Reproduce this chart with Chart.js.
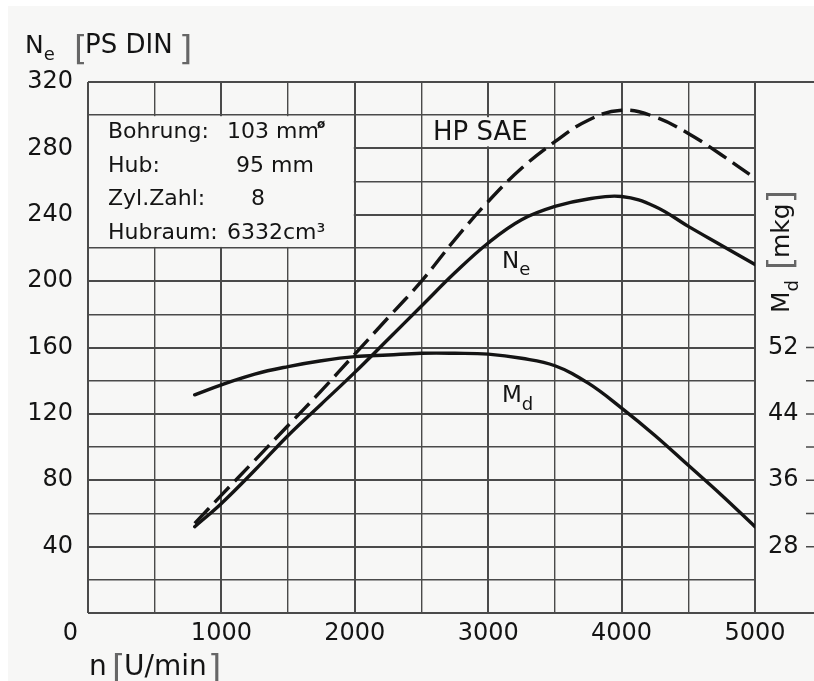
<!DOCTYPE html>
<html>
<head>
<meta charset="utf-8">
<script src="https://cdn.jsdelivr.net/npm/chart.js@4"></script>
<style>
  html, body { margin: 0; padding: 0; background: #fff; }
  canvas { display: block; }
</style>
</head>
<body>
<canvas id="engineChart" width="814" height="681"></canvas>
<script>
// --- Data ---
// engine speed n [U/min]
const rpm = [800, 1000, 1250, 1500, 1750, 2000, 2250, 2500, 2750, 3000, 3250, 3500, 3750, 4000, 4250, 4500, 4750, 5000];
// Ne [PS DIN], solid curve
const neDin = [52, 66, 86, 107, 126, 145, 165, 185, 205, 223, 237, 245, 249.5, 251, 245, 233, 221.5, 210];
// HP SAE, dashed curve (same left scale)
const hpSae = [54, 71, 92, 113, 134, 156, 178, 200, 225, 248, 268, 284, 297, 303, 299, 289, 276, 262];
// Md [mkg], torque curve on the right scale
const mdMkg = [46.3, 47.5, 48.8, 49.7, 50.4, 50.9, 51.1, 51.3, 51.3, 51.2, 50.7, 49.8, 47.7, 44.7, 41.4, 37.8, 34.2, 30.4];

// tick labels
const rpmLabels = [1000, 2000, 3000, 4000, 5000];
const neLabels = [40, 80, 120, 160, 200, 240, 280, 320];
const mdLabels = [28, 36, 44, 52];
const mdTickMarks = [28, 32, 36, 40, 44, 48, 52];

const ink = '#141414';
const gridInk = '#4a4a4a';
const paper = '#f7f7f6';
const font = "'DejaVu Sans', sans-serif";

function points(values) {
    return rpm.map((n, i) => ({ x: n, y: values[i] }));
}

// draws "Main" followed by a lowered small subscript, returns the end x
function textWithSub(ctx, main, sub, x, y, size, subSize, drop) {
    ctx.font = `${size}px ${font}`;
    ctx.fillText(main, x, y);
    const w = ctx.measureText(main).width;
    ctx.font = `${subSize}px ${font}`;
    ctx.fillText(sub, x + w, y + drop);
    return x + w + ctx.measureText(sub).width;
}

function bracket(ctx, ch, x, y) {
    ctx.save();
    ctx.fillStyle = '#666';
    ctx.font = `34px ${font}`;
    ctx.fillText(ch, x, y);
    ctx.restore();
}

// --- Paper, frame, info box and curve labels ---
const chartDecor = {
    id: 'chartDecor',
    beforeDraw(chart) {
        const { ctx, width, height } = chart;
        ctx.save();
        ctx.fillStyle = '#ffffff';
        ctx.fillRect(0, 0, width, height);
        ctx.fillStyle = paper;
        ctx.fillRect(8, 6, width - 8, height - 6);
        ctx.restore();
    },
    beforeDatasetsDraw(chart) {
        const { ctx, chartArea: a, scales: { x, y, y2 } } = chart;
        ctx.save();
        // the data box hides the grid in the upper left
        const bx0 = x.getPixelForValue(0), bx1 = x.getPixelForValue(2000);
        const by0 = y.getPixelForValue(300), by1 = y.getPixelForValue(220);
        ctx.fillStyle = paper;
        ctx.fillRect(bx0 + 1, by0 + 1, bx1 - bx0 - 2, by1 - by0 - 2);
        // blank patch behind "HP SAE"
        const hy = y.getPixelForValue(280);
        ctx.fillRect(430, by0 + 2, 108, hy - by0 - 4);

        // frame, top and bottom lines run out to the right edge
        ctx.strokeStyle = gridInk;
        ctx.lineWidth = 2;
        ctx.beginPath();
        ctx.moveTo(a.left, a.top); ctx.lineTo(chart.width, a.top);
        ctx.moveTo(a.left, a.bottom); ctx.lineTo(chart.width, a.bottom);
        ctx.moveTo(a.left, a.top); ctx.lineTo(a.left, a.bottom);
        ctx.moveTo(a.right, a.top); ctx.lineTo(a.right, a.bottom);
        ctx.stroke();

        // little marks right of the Md labels
        ctx.lineWidth = 1.5;
        ctx.beginPath();
        mdTickMarks.forEach(v => {
            const py = y2.getPixelForValue(v);
            ctx.moveTo(806, py);
            ctx.lineTo(814, py);
        });
        ctx.stroke();
        ctx.restore();
    },
    afterDatasetsDraw(chart) {
        const { ctx } = chart;
        ctx.save();
        ctx.fillStyle = ink;
        ctx.textBaseline = 'alphabetic';
        ctx.textAlign = 'left';

        // left axis title
        textWithSub(ctx, 'N', 'e', 25, 53, 25, 18, 7);
        bracket(ctx, '[', 74, 60);
        ctx.font = `26px ${font}`;
        ctx.fillText('PS DIN', 85, 53);
        bracket(ctx, ']', 179, 60);

        // bottom axis title
        ctx.font = `28px ${font}`;
        ctx.fillText('n', 89, 675);
        bracket(ctx, '[', 112, 679);
        ctx.font = `28px ${font}`;
        ctx.fillText('U/min', 124, 675);
        bracket(ctx, ']', 208, 679);

        // origin label
        ctx.font = `24px ${font}`;
        ctx.textAlign = 'right';
        ctx.textBaseline = 'middle';
        ctx.fillText('0', 78, 634);
        ctx.textAlign = 'left';
        ctx.textBaseline = 'alphabetic';

        // right axis title, reading upwards
        ctx.save();
        ctx.translate(789, 313);
        ctx.rotate(-Math.PI / 2);
        const endMd = textWithSub(ctx, 'M', 'd', 0, 0, 25, 18, 9);
        bracket(ctx, '[', endMd + 10, 3);
        ctx.font = `25px ${font}`;
        ctx.fillText('mkg', endMd + 22, 0);
        const wk = ctx.measureText('mkg').width;
        bracket(ctx, ']', endMd + 22 + wk, 3);
        ctx.restore();

        // info box
        ctx.font = `22px ${font}`;
        ctx.fillText('Bohrung:', 108, 138);
        ctx.fillText('103 mm', 227, 138);
        ctx.font = `bold 12px ${font}`;
        ctx.fillText('ø', 317, 128);
        ctx.font = `22px ${font}`;
        ctx.fillText('Hub:', 108, 172);
        ctx.fillText('95 mm', 236, 172);
        ctx.fillText('Zyl.Zahl:', 108, 205);
        ctx.fillText('8', 251, 205);
        ctx.fillText('Hubraum:', 108, 239);
        ctx.fillText('6332cm³', 227, 239);

        // curve labels
        ctx.font = `26px ${font}`;
        ctx.fillText('HP SAE', 433, 140);
        textWithSub(ctx, 'N', 'e', 502, 268, 23, 18, 7);
        textWithSub(ctx, 'M', 'd', 502, 402, 23, 18, 8);
        ctx.restore();
    }
};

const curveStyle = {
    borderColor: ink,
    borderWidth: 3.4,
    pointRadius: 0,
    fill: false,
    tension: 0.4,
    borderCapStyle: 'round'
};

const ctx = document.getElementById('engineChart').getContext('2d');
new Chart(ctx, {
    type: 'line',
    data: {
        datasets: [
            { ...curveStyle, label: 'Ne [PS DIN]', data: points(neDin), yAxisID: 'y' },
            { ...curveStyle, label: 'HP SAE', data: points(hpSae), yAxisID: 'y', borderDash: [21, 8], borderCapStyle: 'butt' },
            { ...curveStyle, label: 'Md [mkg]', data: points(mdMkg), yAxisID: 'y2' }
        ]
    },
    options: {
        responsive: false,
        devicePixelRatio: 1,
        animation: false,
        layout: { padding: { top: 82, left: 0, right: 0, bottom: 0 } },
        plugins: {
            legend: { display: false },
            tooltip: { enabled: false }
        },
        scales: {
            x: {
                type: 'linear',
                min: 0,
                max: 5000,
                afterFit: s => { s.height = 68; },
                ticks: {
                    stepSize: 500,
                    autoSkip: false,
                    maxRotation: 0,
                    padding: 6,
                    color: ink,
                    font: { family: font, size: 24 },
                    callback: v => rpmLabels.includes(v) ? v : ''
                },
                grid: {
                    color: gridInk,
                    drawTicks: false,
                    lineWidth: c => (c.tick && c.tick.value % 1000 === 0) ? 2 : 1.4
                },
                border: { display: false }
            },
            y: {
                min: 0,
                max: 320,
                afterFit: s => { s.width = 88; },
                ticks: {
                    stepSize: 20,
                    autoSkip: false,
                    padding: 15,
                    color: ink,
                    font: { family: font, size: 24 },
                    callback: v => neLabels.includes(v) ? v : ''
                },
                grid: {
                    color: gridInk,
                    drawTicks: false,
                    lineWidth: c => (c.tick && c.tick.value % 40 === 0) ? 2 : 1.4
                },
                border: { display: false }
            },
            y2: {
                position: 'right',
                min: 20,
                max: 84,
                afterFit: s => { s.width = 59; },
                afterBuildTicks: s => { s.ticks = mdTickMarks.map(v => ({ value: v })); },
                ticks: {
                    autoSkip: false,
                    padding: 13,
                    color: ink,
                    font: { family: font, size: 24 },
                    callback: v => mdLabels.includes(v) ? v : ''
                },
                grid: { display: false, drawTicks: false },
                border: { display: false }
            }
        }
    },
    plugins: [chartDecor]
});
</script>
</body>
</html>
